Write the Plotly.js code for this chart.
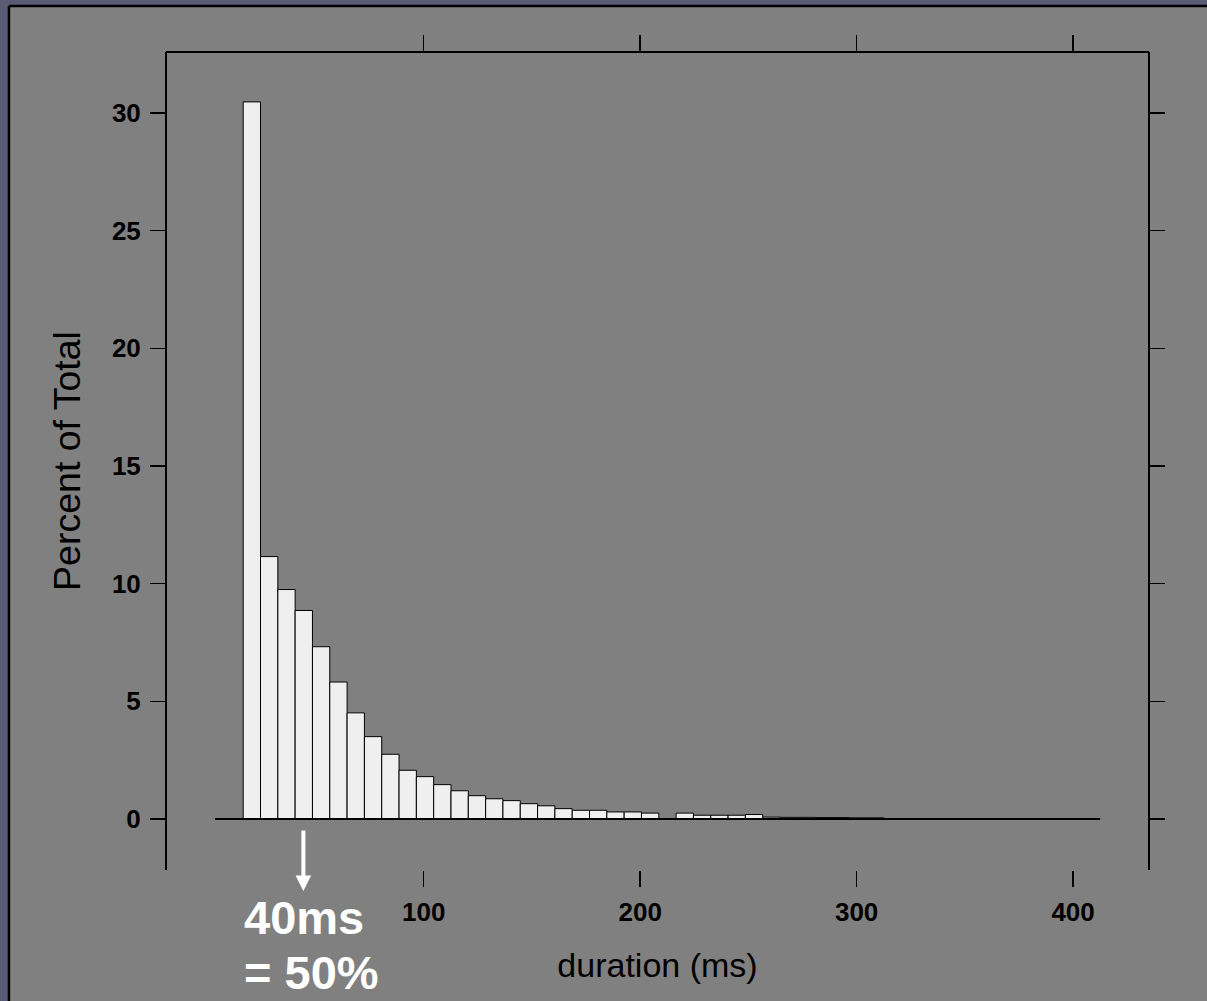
<!DOCTYPE html>
<html>
<head>
<meta charset="utf-8">
<script src="https://cdn.plot.ly/plotly-3.0.1.min.js"></script>
<style>html,body{margin:0;padding:0;background:#808080;}#chart{width:1207px;height:1001px;}</style>
</head>
<body>
<div id="chart"></div>
<script>
// bin centers (ms), bin width 8 ms
const binCenters = [20.6, 28.6, 36.6, 44.6, 52.6, 60.6, 68.6, 76.6, 84.6, 92.6,
  100.6, 108.6, 116.6, 124.6, 132.6, 140.6, 148.6, 156.6, 164.6, 172.6,
  180.6, 188.6, 196.6, 204.6, 212.6, 220.6, 228.6, 236.6, 244.6, 252.6,
  260.6, 268.6, 276.6, 284.6, 292.6, 300.6, 308.6];
const binWidth = 8;
const percentOfTotal = [30.47, 11.15, 9.75, 8.86, 7.32, 5.82, 4.51, 3.50, 2.75, 2.07,
  1.80, 1.46, 1.20, 0.99, 0.86, 0.78, 0.65, 0.56, 0.44, 0.37,
  0.37, 0.30, 0.30, 0.25, 0, 0.25, 0.16, 0.16, 0.16, 0.19,
  0.08, 0.07, 0.07, 0.06, 0.06, 0.05, 0.05];
const xTickVals = [100, 200, 300, 400];
const yTickVals = [0, 5, 10, 15, 20, 25, 30];
const xTitle = 'duration (ms)';
const yTitle = 'Percent of Total';
const noteLine1 = '40ms';
const noteLine2 = '= 50%';

const tickFont = {family: 'Liberation Sans Narrow, Arial Narrow, Liberation Sans, sans-serif', size: 26, color: '#000', weight: 'bold'};
const xTitleFont = {family: 'Liberation Sans, Arial, sans-serif', size: 34, color: '#000'};
const yTitleFont = {family: 'Liberation Sans, Arial, sans-serif', size: 37.5, color: '#000'};

const trace = {
  type: 'bar',
  x: binCenters,
  y: percentOfTotal,
  width: binCenters.map(() => binWidth),
  marker: {color: '#efefef', line: {color: '#000', width: 1}},
  hoverinfo: 'x+y'
};

const layout = {
  width: 1207, height: 1001,
  margin: {l: 167, r: 59, t: 52, b: 131, pad: 0},
  paper_bgcolor: '#808080', plot_bgcolor: '#808080',
  showlegend: false,
  bargap: 0,
  xaxis: {
    range: [-18.6, 434.6], tickvals: xTickVals, ticktext: xTickVals.map(String),
    ticks: 'outside', ticklen: 16, tickwidth: 1.5, tickcolor: '#000',
    showline: false, mirror: 'ticks', showgrid: false, zeroline: false,
    tickfont: tickFont, ticklabelstandoff: 3,
    title: {text: xTitle, font: xTitleFont, standoff: 26},
    automargin: false, fixedrange: true
  },
  yaxis: {
    range: [-2.167, 32.59], tickvals: yTickVals, ticktext: yTickVals.map(String),
    ticks: 'outside', ticklen: 15, tickwidth: 1.5, tickcolor: '#000',
    showline: true, linecolor: '#000', linewidth: 2, mirror: 'ticks',
    showgrid: false, zeroline: false,
    tickfont: tickFont, ticklabelstandoff: 4,
    title: {text: yTitle, font: yTitleFont, standoff: 20},
    automargin: false, fixedrange: true
  },
  shapes: [
    // plot frame top
    {type: 'line', xref: 'paper', yref: 'paper', x0: -0.001, x1: 1.001, y0: 1, y1: 1, line: {color: '#000', width: 2}},
    // baseline at zero
    {type: 'line', xref: 'x', yref: 'y', x0: 3.6, x1: 412.5, y0: 0, y1: 0, line: {color: '#000', width: 2}, layer: 'above'},
    // outer slide band top / left
    {type: 'rect', xref: 'paper', yref: 'paper', x0: -0.2, x1: 1.1, y0: 1.0562, y1: 1.07, fillcolor: '#595c74', line: {width: 0}},
    {type: 'rect', xref: 'paper', yref: 'paper', x0: -0.2, x1: -0.1621, y0: -0.2, y1: 1.07, fillcolor: '#595c74', line: {width: 0}},
    {type: 'line', xref: 'paper', yref: 'paper', x0: -0.1611, x1: 1.1, y0: 1.0562, y1: 1.0562, line: {color: '#000', width: 2.5}},
    {type: 'line', xref: 'paper', yref: 'paper', x0: -0.1611, x1: -0.1611, y0: -0.2, y1: 1.0562, line: {color: '#000', width: 2.5}}
  ],
  annotations: [
    {xref: 'x', yref: 'paper', x: 44.4, y: -0.0257, text: '', showarrow: true,
     ax: 0, ay: -62, axref: 'pixel', ayref: 'pixel', arrowcolor: '#fff', arrowwidth: 4, arrowsize: 0.78, arrowhead: 2, standoff: 0},
    {xref: 'paper', yref: 'paper', x: 0.0765, y: -0.0575, xanchor: 'left', yanchor: 'middle', showarrow: false,
     text: noteLine1, font: {family: 'Liberation Sans, Arial, sans-serif', size: 47, color: '#fff', weight: 'bold'}},
    {xref: 'paper', yref: 'paper', x: 0.0765, y: -0.1253, xanchor: 'left', yanchor: 'middle', showarrow: false,
     text: noteLine2, font: {family: 'Liberation Sans, Arial, sans-serif', size: 47, color: '#fff', weight: 'bold'}}
  ]
};

Plotly.newPlot('chart', [trace], layout, {displayModeBar: false, staticPlot: true});
</script>
</body>
</html>
